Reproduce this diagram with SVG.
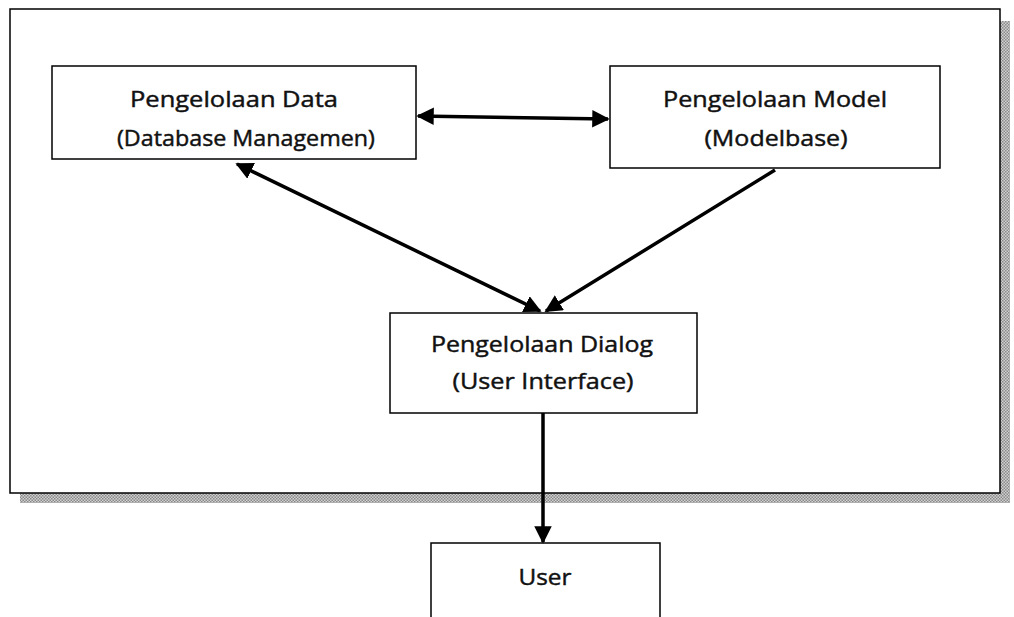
<svg xmlns="http://www.w3.org/2000/svg" width="1014" height="617" viewBox="0 0 1014 617">
<style>
.box{fill:#fff;stroke:#000;stroke-width:1.5}
.t{font-family:"Open Sans","Liberation Sans",sans-serif;font-size:22px;fill:#111;text-anchor:middle;stroke:#111;stroke-width:0.45}
.c{stroke:#000;stroke-width:3.5;fill:none}
</style>
<defs>
<pattern id="dots" width="3" height="3" patternUnits="userSpaceOnUse">
<rect width="3" height="3" fill="#d0d0d0"/>
<rect width="1.5" height="1.5" fill="#8a8a8a"/>
<rect x="1.5" y="1.5" width="1.5" height="1.5" fill="#8a8a8a"/>
</pattern>
<marker id="ah" viewBox="0 0 10 10" refX="9" refY="5" markerWidth="5" markerHeight="5" orient="auto-start-reverse" markerUnits="strokeWidth">
<path d="M0,0 L10,5 L0,10 z" fill="#000"/>
</marker>
</defs>
<rect width="1014" height="617" fill="#fff"/>
<g id="frame">
<rect x="20" y="21" width="990" height="482" fill="url(#dots)"/>
<rect x="10" y="9" width="990" height="484" class="box"/>
</g>
<g id="data">
<rect x="52" y="66" width="364" height="93" class="box"/>
<text class="t" x="234" y="107" textLength="208" lengthAdjust="spacingAndGlyphs">Pengelolaan Data</text>
<text class="t" x="246" y="146" textLength="258" lengthAdjust="spacingAndGlyphs">(Database Managemen)</text>
</g>
<g id="model">
<rect x="610" y="66" width="330" height="102" class="box"/>
<text class="t" x="775" y="107" textLength="224" lengthAdjust="spacingAndGlyphs">Pengelolaan Model</text>
<text class="t" x="776" y="146" textLength="143" lengthAdjust="spacingAndGlyphs">(Modelbase)</text>
</g>
<g id="dialog">
<rect x="390" y="313" width="307" height="100" class="box"/>
<text class="t" x="542" y="352" textLength="222" lengthAdjust="spacingAndGlyphs">Pengelolaan Dialog</text>
<text class="t" x="543" y="389" textLength="181" lengthAdjust="spacingAndGlyphs">(User Interface)</text>
</g>
<g id="user">
<rect x="431" y="543" width="229" height="90" class="box"/>
<text class="t" x="545" y="585" textLength="53" lengthAdjust="spacingAndGlyphs">User</text>
</g>
<g id="connectors">
<line class="c" x1="418" y1="116" x2="608" y2="119" marker-start="url(#ah)" marker-end="url(#ah)"/>
<line class="c" x1="237" y1="164" x2="540" y2="311" marker-start="url(#ah)" marker-end="url(#ah)"/>
<line class="c" x1="775" y1="170" x2="546" y2="311" marker-end="url(#ah)"/>
<line class="c" x1="543" y1="413" x2="543" y2="542" marker-end="url(#ah)"/>
</g>
</svg>
